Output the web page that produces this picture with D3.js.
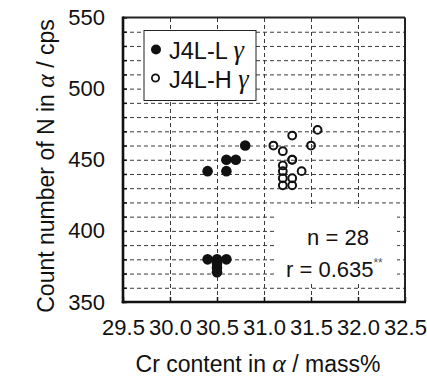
<!DOCTYPE html>
<html>
<head>
<meta charset="utf-8">
<script src="https://cdn.jsdelivr.net/npm/d3@7"></script>
<style>
  html, body { margin: 0; padding: 0; background: #fff; }
  svg { display: block; }
  text { font-family: "Liberation Sans", Arial, sans-serif; fill: #111; }
  .greek { font-family: "Liberation Serif", "Times New Roman", serif; font-style: italic; font-size: 1.12em; }
</style>
</head>
<body>
<svg id="chart" width="427" height="377"></svg>
<script>
// J4L-L γ (filled) : Cr content in α (mass%) and N count (cps)
const lowCr   = [30.4, 30.5, 30.6, 30.5, 30.5, 30.5, 30.4, 30.6, 30.6, 30.7, 30.8];
const lowN    = [380,  380,  380,  377,  374,  371,  442,  442,  450,  450,  460];
// J4L-H γ (open)
const highCr  = [31.2, 31.3, 31.2, 31.3, 31.2, 31.4, 31.2, 31.3, 31.3, 31.2, 31.1, 31.5, 31.3, 31.57];
const highN   = [432,  432,  437,  437,  442,  442,  446,  450,  450,  456,  460,  460,  467,  471];

const xTicks = [29.5, 30.0, 30.5, 31.0, 31.5, 32.0, 32.5];
const yTicks = [350, 400, 450, 500, 550];
const yMinor = d3.range(350, 551, 10);
const legendLabels = ["J4L-L", "J4L-H"];
const statLines = ["n = 28", "r = 0.635"];

const svg = d3.select("#chart");
const plotL = 123, plotR = 405, plotT = 17.5, plotB = 302;

const x = d3.scaleLinear().domain([29.5, 32.5]).range([plotL, plotR]);
const y = d3.scaleLinear().domain([350, 550]).range([plotB, plotT]);

// dashed grid
const grid = svg.append("g");
grid.append("g")
  .attr("transform", `translate(${plotL},0)`)
  .call(d3.axisLeft(y).tickValues(yMinor.filter(v => v > 350 && v < 550))
    .tickSize(-(plotR - plotL)).tickFormat(""))
  .call(g => g.select(".domain").remove())
  .selectAll("line").attr("stroke", "#3a3a3a").attr("stroke-width", 1).attr("stroke-dasharray", "4,3");
grid.append("g")
  .attr("transform", `translate(0,${plotB})`)
  .call(d3.axisBottom(x).tickValues(xTicks.slice(1, -1))
    .tickSize(-(plotB - plotT)).tickFormat(""))
  .call(g => g.select(".domain").remove())
  .selectAll("line").attr("stroke", "#3a3a3a").attr("stroke-width", 1).attr("stroke-dasharray", "4,3");

// statistics panel
svg.append("rect").attr("x", 275).attr("y", 208).attr("width", 122).attr("height", 73).attr("fill", "#fff");
svg.append("text").attr("x", 338).attr("y", 245).attr("text-anchor", "middle")
  .attr("font-size", 22).text(statLines[0]);
const rt = svg.append("text").attr("x", 286).attr("y", 276.5).attr("font-size", 22);
rt.append("tspan").text(statLines[1]);
rt.append("tspan").attr("font-size", 12).attr("dy", -10).style("fill", "#555").text("**");

// legend
svg.append("rect").attr("x", 144).attr("y", 30.5).attr("width", 112).attr("height", 70)
  .attr("fill", "#fff").attr("stroke", "#222").attr("stroke-width", 1);
svg.append("circle").attr("cx", 156).attr("cy", 49.5).attr("r", 5).attr("fill", "#111");
svg.append("circle").attr("cx", 155.5).attr("cy", 78).attr("r", 3.6)
  .attr("fill", "#fff").attr("stroke", "#111").attr("stroke-width", 1.8);
[58.5, 88].forEach((yy, i) => {
  const t = svg.append("text").attr("x", 169).attr("y", yy).attr("font-size", 23.5);
  t.append("tspan").text(legendLabels[i] + " ");
  t.append("tspan").attr("class", "greek").text("γ");
});

// points
svg.append("g").selectAll("circle").data(d3.zip(lowCr, lowN)).join("circle")
  .attr("cx", d => x(d[0])).attr("cy", d => y(d[1])).attr("r", 5.3).attr("fill", "#111");
svg.append("g").selectAll("circle").data(d3.zip(highCr, highN)).join("circle")
  .attr("cx", d => x(d[0])).attr("cy", d => y(d[1])).attr("r", 3.9)
  .attr("fill", "none").attr("stroke", "#111").attr("stroke-width", 2);

// inward minor ticks
svg.append("g").attr("transform", `translate(${plotL},0)`)
  .call(d3.axisRight(y).tickValues(yMinor).tickSize(4).tickFormat(""))
  .call(g => g.select(".domain").remove())
  .selectAll("line").attr("stroke", "#111").attr("stroke-width", 1.5);
svg.append("g").attr("transform", `translate(0,${plotB})`)
  .call(d3.axisTop(x).tickValues(xTicks).tickSize(5).tickFormat(""))
  .call(g => g.select(".domain").remove())
  .selectAll("line").attr("stroke", "#111").attr("stroke-width", 1.5);

// frame
svg.append("line").attr("x1", plotL).attr("x2", plotR).attr("y1", plotT).attr("y2", plotT)
  .attr("stroke", "#222").attr("stroke-width", 1.8);
svg.append("line").attr("x1", plotR).attr("x2", plotR).attr("y1", plotT).attr("y2", plotB)
  .attr("stroke", "#222").attr("stroke-width", 2);
svg.append("line").attr("x1", plotL).attr("x2", plotL).attr("y1", plotT - 1).attr("y2", plotB + 1.3)
  .attr("stroke", "#111").attr("stroke-width", 2.6);
svg.append("line").attr("x1", plotL - 1.3).attr("x2", plotR + 1).attr("y1", plotB).attr("y2", plotB)
  .attr("stroke", "#111").attr("stroke-width", 2.6);

// tick labels
svg.append("g").attr("transform", `translate(${plotL},0)`)
  .call(d3.axisLeft(y).tickValues(yTicks).tickSize(0).tickPadding(18).tickFormat(d3.format("d")))
  .call(g => g.select(".domain").remove())
  .selectAll("text").attr("font-size", 22).attr("font-family", "Liberation Sans, Arial, sans-serif")
  .attr("fill", "#111");
svg.append("g").attr("transform", `translate(0,${plotB})`)
  .call(d3.axisBottom(x).tickValues(xTicks).tickSize(0).tickPadding(17).tickFormat(d3.format(".1f")))
  .call(g => g.select(".domain").remove())
  .selectAll("text").attr("font-size", 22).attr("font-family", "Liberation Sans, Arial, sans-serif")
  .attr("fill", "#111");

// axis titles
const xt = svg.append("text").attr("x", 258).attr("y", 371.5).attr("text-anchor", "middle").attr("font-size", 23);
xt.append("tspan").text("Cr content in ");
xt.append("tspan").attr("class", "greek").text("α");
xt.append("tspan").text(" / mass%");

const yt = svg.append("text").attr("transform", "translate(54,166) rotate(-90)")
  .attr("text-anchor", "middle").attr("font-size", 23);
yt.append("tspan").text("Count number of N in ");
yt.append("tspan").attr("class", "greek").text("α");
yt.append("tspan").text(" / cps");
</script>
</body>
</html>
